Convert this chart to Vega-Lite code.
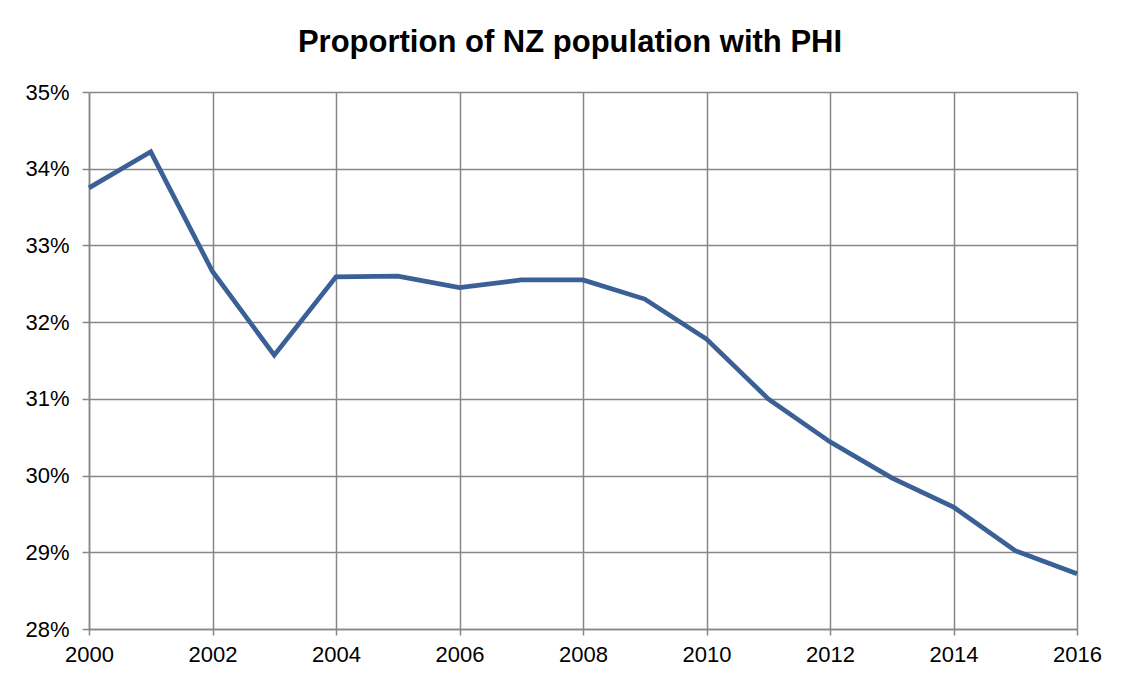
{
  "$schema": "https://vega.github.io/schema/vega-lite/v6.json",
  "autosize": "none",
  "width": 988,
  "height": 537,
  "padding": {"left": 89, "top": 92, "right": 46, "bottom": 49},
  "background": "white",
  "title": {
    "text": "Proportion of NZ population with PHI",
    "font": "Liberation Sans",
    "fontSize": 31,
    "fontWeight": "bold",
    "color": "#000000",
    "anchor": "middle",
    "dx": -13,
    "offset": 22
  },
  "data": {
    "values": [
      {"year": 2000, "share": 0.3375},
      {"year": 2001, "share": 0.3422},
      {"year": 2002, "share": 0.3266},
      {"year": 2003, "share": 0.3157},
      {"year": 2004, "share": 0.3259},
      {"year": 2005, "share": 0.3260},
      {"year": 2006, "share": 0.3245},
      {"year": 2007, "share": 0.3255},
      {"year": 2008, "share": 0.3255},
      {"year": 2009, "share": 0.3230},
      {"year": 2010, "share": 0.3178},
      {"year": 2011, "share": 0.3100},
      {"year": 2012, "share": 0.3044},
      {"year": 2013, "share": 0.2997},
      {"year": 2014, "share": 0.2959},
      {"year": 2015, "share": 0.2902},
      {"year": 2016, "share": 0.2872}
    ]
  },
  "mark": {"type": "line", "color": "#3A6095", "strokeWidth": 4.7, "strokeJoin": "miter"},
  "encoding": {
    "x": {
      "field": "year",
      "type": "quantitative",
      "scale": {"domain": [2000, 2016], "nice": false, "zero": false},
      "axis": {
        "title": null,
        "format": "d",
        "values": [2000, 2002, 2004, 2006, 2008, 2010, 2012, 2014, 2016],
        "labelFont": "Liberation Sans",
        "labelFontSize": 22,
        "labelColor": "#000000",
        "labelPadding": 9,
        "tickSize": 6,
        "tickColor": "#878787",
        "tickWidth": 1.5,
        "domainColor": "#878787",
        "domainWidth": 1.5,
        "gridColor": "#878787",
        "gridWidth": 1.5,
        "gridOpacity": 1,
        "labelFlush": false,
        "labelOverlap": false
      }
    },
    "y": {
      "field": "share",
      "type": "quantitative",
      "scale": {"domain": [0.28, 0.35], "nice": false, "zero": false},
      "axis": {
        "title": null,
        "format": ".0%",
        "values": [0.28, 0.29, 0.30, 0.31, 0.32, 0.33, 0.34, 0.35],
        "labelFont": "Liberation Sans",
        "labelFontSize": 22,
        "labelColor": "#000000",
        "labelPadding": 13,
        "tickSize": 7,
        "tickColor": "#878787",
        "tickWidth": 1.5,
        "domainColor": "#878787",
        "domainWidth": 1.5,
        "gridColor": "#878787",
        "gridWidth": 1.5,
        "gridOpacity": 1,
        "labelFlush": false,
        "labelOverlap": false
      }
    }
  },
  "config": {
    "view": {"stroke": null}
  }
}
